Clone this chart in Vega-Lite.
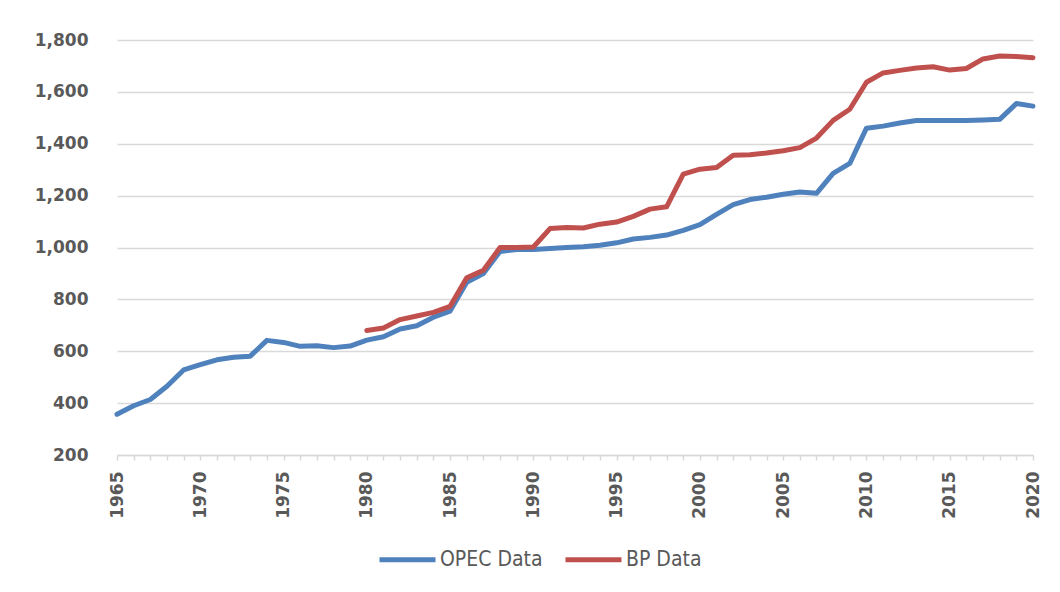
{
  "$schema": "https://vega.github.io/schema/vega-lite/v6.json",
  "width": 916,
  "height": 415,
  "autosize": {"type": "none"},
  "padding": {"left": 117, "top": 40, "right": 27, "bottom": 137},
  "background": "white",
  "config": {"view": {"stroke": null}},
  "data": {"values": [
    {"year":1965,"series":"OPEC Data","value":357},
    {"year":1966,"series":"OPEC Data","value":390},
    {"year":1967,"series":"OPEC Data","value":414},
    {"year":1968,"series":"OPEC Data","value":465},
    {"year":1969,"series":"OPEC Data","value":528},
    {"year":1970,"series":"OPEC Data","value":548},
    {"year":1971,"series":"OPEC Data","value":567},
    {"year":1972,"series":"OPEC Data","value":577},
    {"year":1973,"series":"OPEC Data","value":581},
    {"year":1974,"series":"OPEC Data","value":642},
    {"year":1975,"series":"OPEC Data","value":634},
    {"year":1976,"series":"OPEC Data","value":619},
    {"year":1977,"series":"OPEC Data","value":621},
    {"year":1978,"series":"OPEC Data","value":614},
    {"year":1979,"series":"OPEC Data","value":620},
    {"year":1980,"series":"OPEC Data","value":643},
    {"year":1981,"series":"OPEC Data","value":656},
    {"year":1982,"series":"OPEC Data","value":686},
    {"year":1983,"series":"OPEC Data","value":698},
    {"year":1984,"series":"OPEC Data","value":731},
    {"year":1985,"series":"OPEC Data","value":755},
    {"year":1986,"series":"OPEC Data","value":866},
    {"year":1987,"series":"OPEC Data","value":900},
    {"year":1988,"series":"OPEC Data","value":985},
    {"year":1989,"series":"OPEC Data","value":992},
    {"year":1990,"series":"OPEC Data","value":992},
    {"year":1991,"series":"OPEC Data","value":996},
    {"year":1992,"series":"OPEC Data","value":1000},
    {"year":1993,"series":"OPEC Data","value":1003},
    {"year":1994,"series":"OPEC Data","value":1009},
    {"year":1995,"series":"OPEC Data","value":1018},
    {"year":1996,"series":"OPEC Data","value":1033},
    {"year":1997,"series":"OPEC Data","value":1039},
    {"year":1998,"series":"OPEC Data","value":1048},
    {"year":1999,"series":"OPEC Data","value":1066},
    {"year":2000,"series":"OPEC Data","value":1088},
    {"year":2001,"series":"OPEC Data","value":1128},
    {"year":2002,"series":"OPEC Data","value":1165},
    {"year":2003,"series":"OPEC Data","value":1185},
    {"year":2004,"series":"OPEC Data","value":1194},
    {"year":2005,"series":"OPEC Data","value":1205},
    {"year":2006,"series":"OPEC Data","value":1214},
    {"year":2007,"series":"OPEC Data","value":1209},
    {"year":2008,"series":"OPEC Data","value":1286},
    {"year":2009,"series":"OPEC Data","value":1324},
    {"year":2010,"series":"OPEC Data","value":1460},
    {"year":2011,"series":"OPEC Data","value":1468},
    {"year":2012,"series":"OPEC Data","value":1480},
    {"year":2013,"series":"OPEC Data","value":1490},
    {"year":2014,"series":"OPEC Data","value":1490},
    {"year":2015,"series":"OPEC Data","value":1490},
    {"year":2016,"series":"OPEC Data","value":1490},
    {"year":2017,"series":"OPEC Data","value":1492},
    {"year":2018,"series":"OPEC Data","value":1494},
    {"year":2019,"series":"OPEC Data","value":1555},
    {"year":2020,"series":"OPEC Data","value":1545},
    {"year":1980,"series":"BP Data","value":680},
    {"year":1981,"series":"BP Data","value":690},
    {"year":1982,"series":"BP Data","value":722},
    {"year":1983,"series":"BP Data","value":736},
    {"year":1984,"series":"BP Data","value":750},
    {"year":1985,"series":"BP Data","value":773},
    {"year":1986,"series":"BP Data","value":883},
    {"year":1987,"series":"BP Data","value":912},
    {"year":1988,"series":"BP Data","value":1000},
    {"year":1989,"series":"BP Data","value":1000},
    {"year":1990,"series":"BP Data","value":1002},
    {"year":1991,"series":"BP Data","value":1073},
    {"year":1992,"series":"BP Data","value":1077},
    {"year":1993,"series":"BP Data","value":1075},
    {"year":1994,"series":"BP Data","value":1090},
    {"year":1995,"series":"BP Data","value":1098},
    {"year":1996,"series":"BP Data","value":1120},
    {"year":1997,"series":"BP Data","value":1148},
    {"year":1998,"series":"BP Data","value":1157},
    {"year":1999,"series":"BP Data","value":1283},
    {"year":2000,"series":"BP Data","value":1302},
    {"year":2001,"series":"BP Data","value":1308},
    {"year":2002,"series":"BP Data","value":1356},
    {"year":2003,"series":"BP Data","value":1358},
    {"year":2004,"series":"BP Data","value":1364},
    {"year":2005,"series":"BP Data","value":1373},
    {"year":2006,"series":"BP Data","value":1385},
    {"year":2007,"series":"BP Data","value":1422},
    {"year":2008,"series":"BP Data","value":1490},
    {"year":2009,"series":"BP Data","value":1533},
    {"year":2010,"series":"BP Data","value":1637},
    {"year":2011,"series":"BP Data","value":1673},
    {"year":2012,"series":"BP Data","value":1683},
    {"year":2013,"series":"BP Data","value":1692},
    {"year":2014,"series":"BP Data","value":1697},
    {"year":2015,"series":"BP Data","value":1684},
    {"year":2016,"series":"BP Data","value":1690},
    {"year":2017,"series":"BP Data","value":1727},
    {"year":2018,"series":"BP Data","value":1738},
    {"year":2019,"series":"BP Data","value":1736},
    {"year":2020,"series":"BP Data","value":1732}
  ]},
  "mark": {"type": "line", "strokeWidth": 5, "strokeCap": "round", "strokeJoin": "round"},
  "encoding": {
    "x": {
      "field": "year", "type": "quantitative",
      "scale": {"domain": [1965, 2020], "nice": false, "zero": false},
      "axis": {
        "title": null,
        "values": [1965,1966,1967,1968,1969,1970,1971,1972,1973,1974,1975,1976,1977,1978,1979,1980,1981,1982,1983,1984,1985,1986,1987,1988,1989,1990,1991,1992,1993,1994,1995,1996,1997,1998,1999,2000,2001,2002,2003,2004,2005,2006,2007,2008,2009,2010,2011,2012,2013,2014,2015,2016,2017,2018,2019,2020],
        "format": "d",
        "labelExpr": "datum.value % 5 === 0 ? datum.label : ''",
        "labelOverlap": false,
        "labelAngle": -90,
        "labelAlign": "right",
        "labelBaseline": "middle",
        "labelPadding": 11,
        "labelFont": "DejaVu Sans",
        "labelFontWeight": "bold",
        "labelFontSize": 17,
        "labelColor": "#595959",
        "labelFlush": false,
        "domainColor": "#D9D9D9",
        "domainWidth": 1.5,
        "tickColor": "#D9D9D9",
        "tickWidth": 1.5,
        "tickSize": 5,
        "grid": false
      }
    },
    "y": {
      "field": "value", "type": "quantitative",
      "scale": {"domain": [200, 1800], "nice": false, "zero": false},
      "axis": {
        "title": null,
        "values": [200,400,600,800,1000,1200,1400,1600,1800],
        "format": ",d",
        "domain": false,
        "ticks": false,
        "labelPadding": 29,
        "labelFont": "DejaVu Sans",
        "labelFontWeight": "bold",
        "labelFontSize": 17,
        "labelColor": "#595959",
        "gridColor": "#D9D9D9",
        "gridWidth": 1.5
      }
    },
    "color": {
      "field": "series", "type": "nominal",
      "scale": {"domain": ["OPEC Data", "BP Data"], "range": ["#4F81BD", "#C0504D"]},
      "legend": {
        "title": null,
        "orient": "none",
        "direction": "horizontal",
        "legendX": 260,
        "legendY": 489,
        "symbolType": "stroke",
        "symbolSize": 3136,
        "symbolStrokeWidth": 5,
        "labelFont": "DejaVu Sans Condensed",
        "labelFontSize": 21,
        "labelColor": "#595959",
        "labelOffset": 2,
        "columnPadding": 12
      }
    }
  }
}
